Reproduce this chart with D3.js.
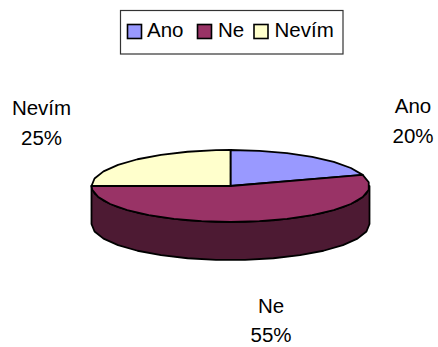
<!DOCTYPE html>
<html>
<head>
<meta charset="utf-8">
<script src="https://cdn.jsdelivr.net/npm/d3@7"></script>
<style>
html,body{margin:0;padding:0;background:#fff}
svg{display:block}
text{font-family:"Liberation Sans",Arial,sans-serif;fill:#000}
</style>
</head>
<body>
<svg id="chart" width="438" height="347"></svg>
<script>
const categories = ["Ano", "Ne", "Nevím"];
const shares = [20, 55, 25];
const sliceColors = ["#9999ff", "#993366", "#ffffcc"];
const sideColors = ["#4d4d80", "#4d1a33", "#808066"];

const W = 438, H = 347;
const cx = 230.5, cy = 186, rx = 139, ry = 36, depth = 38;
const svg = d3.select("#chart");

const pie = d3.pie().sort(null).value(d => d.value);
const slices = pie(categories.map((name, i) => ({name, value: shares[i], i})));

// Project a pie angle (clockwise from 12 o'clock) onto the tilted disc
const px = a => cx + rx * Math.sin(a);
const py = a => cy - ry * Math.cos(a);

// Angles along a rim section, stepped coarsely to keep the faceted edge
function rimAngles(a0, a1) {
  const step = Math.PI / 15;
  const out = d3.range(a0, a1, step);
  out.push(a1);
  return out;
}

const strokeColor = "#000", strokeWidth = 1.8;

// Outer wall: only the part of each slice facing the viewer
const wall = d3.area().x(a => px(a)).y0(a => py(a)).y1(a => py(a) + depth);
slices.forEach(s => {
  const a0 = Math.max(s.startAngle, Math.PI / 2);
  const a1 = Math.min(s.endAngle, Math.PI * 1.5);
  if (a1 <= a0) return;
  svg.append("path")
    .attr("d", wall(rimAngles(a0, a1)))
    .attr("fill", sideColors[s.data.i])
    .attr("stroke", strokeColor)
    .attr("stroke-width", strokeWidth)
    .attr("stroke-linejoin", "round");
});

// Top face of each slice
const rimLine = d3.line().x(a => px(a)).y(a => py(a));
slices.forEach(s => {
  const rim = rimLine(rimAngles(s.startAngle, s.endAngle));
  svg.append("path")
    .attr("d", `M${cx},${cy}L${rim.slice(1)}Z`)
    .attr("fill", sliceColors[s.data.i])
    .attr("stroke", strokeColor)
    .attr("stroke-width", strokeWidth)
    .attr("stroke-linejoin", "round");
});

// Two-line data labels around the pie
const labelPos = [[413, 113, 143], [271, 313, 342], [41.5, 115, 145]];
slices.forEach(s => {
  const [x, y1, y2] = labelPos[s.data.i];
  const g = svg.append("g").attr("text-anchor", "middle").attr("font-size", 20.5);
  g.append("text").attr("x", x).attr("y", y1).text(s.data.name);
  g.append("text").attr("x", x).attr("y", y2).text(s.data.value + "%");
});

// Legend
const legend = svg.append("g");
legend.append("rect")
  .attr("x", 120.5).attr("y", 10.5).attr("width", 222.5).attr("height", 43.5)
  .attr("fill", "#fff").attr("stroke", "#333").attr("stroke-width", 1.2);
const swatchX = [127.5, 197.5, 254];
const textX = [147, 218, 274.5];
categories.forEach((name, i) => {
  legend.append("rect")
    .attr("x", swatchX[i]).attr("y", 24.5).attr("width", 14).attr("height", 14)
    .attr("fill", sliceColors[i]).attr("stroke", "#000").attr("stroke-width", 1.6);
  legend.append("text")
    .attr("x", textX[i]).attr("y", 37).attr("font-size", 20.5).text(name);
});
</script>
</body>
</html>
